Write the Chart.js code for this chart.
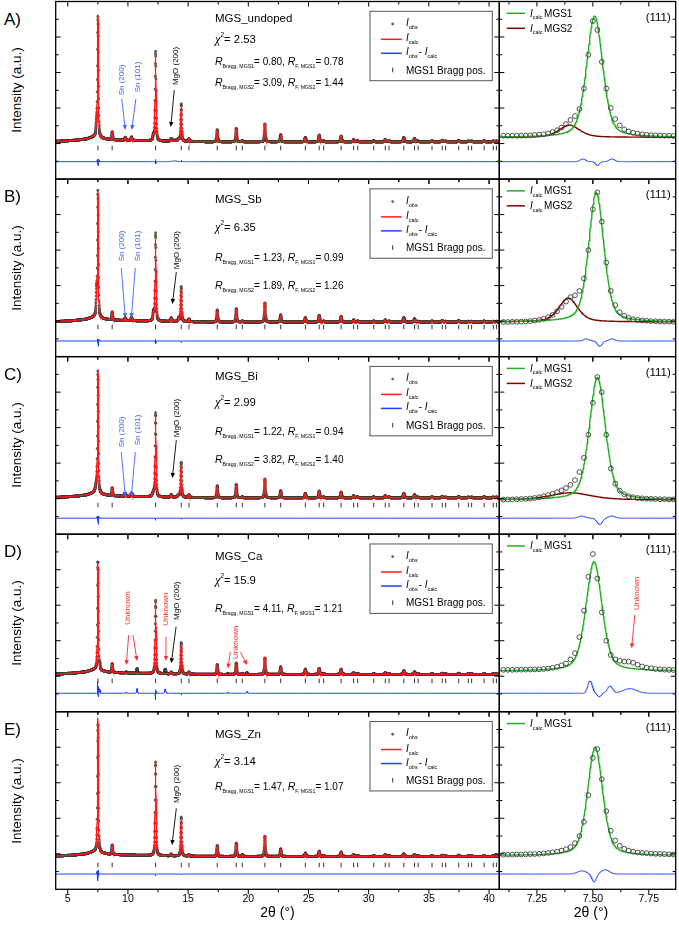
<!DOCTYPE html>
<html><head><meta charset="utf-8">
<script src="https://cdn.jsdelivr.net/npm/chart.js@4.4.1/dist/chart.umd.min.js"></script>
<style>
html,body{margin:0;padding:0;background:#fff;}
body{width:679px;height:927px;position:relative;overflow:hidden;font-family:"Liberation Sans",Arial,sans-serif;color:#000;}
canvas{position:absolute;}
.rowlab{position:absolute;left:4px;font-size:17px;line-height:17px;}
.ylab{position:absolute;font-size:13.5px;line-height:16px;width:160px;text-align:center;transform:rotate(-90deg);white-space:nowrap;}
.xlab{position:absolute;font-size:14px;line-height:16px;white-space:nowrap;transform:translateX(-50%);}
</style></head><body>
<script>
// ================= DATA =================
const rowLetters = ['A)','B)','C)','D)','E)'];
const sampleNames = ['MGS_undoped','MGS_Sb','MGS_Bi','MGS_Ca','MGS_Zn'];
const chiSquared = ['2.53','6.35','2.99','15.9','3.14'];
const rBraggMGS1 = ['0.80','1.23','1.22','4.11','1.47'];
const rFMGS1 = ['0.78','0.99','0.94','1.21','1.07'];
const rBraggMGS2 = ['3.09','1.89','3.82',null,null];
const rFMGS2 = ['1.44','1.26','1.40',null,null];

const leftTickValues = [5,10,15,20,25,30,35,40];
const leftTickLabels = ['5','10','15','20','25','30','35','40'];
const rightTickValues = [7.25,7.50,7.75];
const rightTickLabels = ['7.25','7.50','7.75'];

// MGS1 Bragg positions (2theta, deg)
const braggPos = [7.51,8.69,12.30,14.43,15.07,17.42,19.00,19.50,21.38,22.69,24.74,25.89,26.26,27.71,28.75,29.09,30.42,31.38,31.69,32.92,33.81,34.11,35.26,36.11,36.39,37.48,38.28,38.55,39.59,40.35,40.61];
// peak heights above background (axis units) per sample
const heightsA = [6.84,0.45,4.96,2.03,0.15,0.68,0.75,0.06,1.00,0.40,0.25,0.38,0.05,0.32,0.12,0.06,0.06,0.12,0.06,0.25,0.18,0.04,0.06,0.08,0.04,0.08,0.04,0.04,0.06,0.04,0.04];
const heightsB = [7.10,0.45,4.90,1.97,0.15,0.68,0.75,0.06,1.07,0.40,0.25,0.38,0.05,0.32,0.12,0.06,0.06,0.12,0.06,0.25,0.18,0.04,0.06,0.08,0.04,0.08,0.04,0.04,0.06,0.04,0.04];
const heightsC = [6.80,0.45,4.80,1.97,0.15,0.68,0.75,0.06,1.05,0.40,0.25,0.38,0.05,0.32,0.12,0.06,0.06,0.12,0.06,0.25,0.18,0.04,0.06,0.08,0.04,0.08,0.04,0.04,0.06,0.04,0.04];
const heightsD = [6.05,0.50,4.17,1.78,0.12,0.56,0.65,0.06,0.93,0.43,0.30,0.35,0.05,0.30,0.10,0.05,0.05,0.10,0.05,0.22,0.15,0.04,0.05,0.07,0.04,0.07,0.04,0.04,0.05,0.04,0.04];
const heightsE = [7.57,0.53,5.35,2.20,0.08,0.62,0.75,0.10,1.14,0.43,0.20,0.30,0.05,0.25,0.10,0.05,0.05,0.10,0.05,0.15,0.10,0.04,0.05,0.07,0.04,0.07,0.04,0.04,0.05,0.04,0.04];
const peakHeights = [heightsA,heightsB,heightsC,heightsD,heightsE];

// impurity peaks included in the calculated pattern: Sn(200), Sn(101), MgO(200)
const impurityPos = [9.78,10.30,13.60];
const impurityHeights = [[0.17,0.20,0.12],[0.15,0.18,0.20],[0.17,0.20,0.15],[0,0,0.10],[0,0,0.10]];
// MGS2 phase peaks (left panels)
const mgs2Pos = [7.395,12.12,14.22];
const mgs2HeightsLeft = [[0.69,0.30,0.12],[1.35,0.50,0.20],[0.40,0.20,0.10],[0,0,0],[0,0,0]];

// background level (far from peaks) and background shape
const bgBase = [2.10,1.95,2.05,2.10,1.85];
const bgKnot2Theta = [4,5.5,6.5,7.2,7.8,8.5,10,13,17,41];
const bgKnotLevel = [0.02,0.08,0.15,0.28,0.20,0.12,0.08,0.04,0,0];
const braggTickLevel = [1.75,1.67,1.64,1.74,1.37];
const diffZeroLevel = [0.98,0.88,0.90,1.04,0.86];

// difference (Iobs - Icalc) features: [2theta, amplitude, sigma]
const diffFeaturesA = [[7.455,0.15,0.012],[7.52,-0.22,0.008],[7.585,0.15,0.012],[12.29,0.12,0.01],[12.33,-0.12,0.01],[14.43,0.08,0.01],[13.9,0.04,0.25]];
const diffFeaturesB = [[7.47,0.12,0.012],[7.53,-0.30,0.01],[7.585,0.12,0.012],[12.29,0.10,0.01],[12.33,-0.15,0.01],[14.45,-0.08,0.01]];
const diffFeaturesC = [[7.45,0.12,0.015],[7.53,-0.35,0.012],[7.585,0.12,0.015],[12.30,-0.12,0.01],[14.45,-0.06,0.01]];
const diffFeaturesD = [[7.487,0.70,0.01],[7.528,-0.20,0.008],[7.576,0.40,0.012],[7.665,0.26,0.03],[9.87,0.06,0.04],[10.76,0.26,0.04],[12.28,-0.37,0.01],[12.33,0.20,0.01],[13.10,0.25,0.05],[14.45,-0.10,0.01],[18.31,0.05,0.04],[19.89,0.10,0.05]];
const diffFeaturesE = [[7.45,0.18,0.02],[7.505,-0.45,0.01],[7.555,0.24,0.018],[12.30,-0.10,0.01],[14.45,-0.05,0.01]];
const diffFeatures = [diffFeaturesA,diffFeaturesB,diffFeaturesC,diffFeaturesD,diffFeaturesE];

// (111) zoom panels: observed points
const rightGrid = [7.10,7.12,7.14,7.16,7.18,7.20,7.22,7.24,7.26,7.28,7.30,7.32,7.34,7.36,7.38,7.40,7.42,7.44,7.46,7.48,7.50,7.52,7.54,7.56,7.58,7.60,7.62,7.64,7.66,7.68,7.70,7.72,7.74,7.76,7.78,7.80,7.82,7.84,7.86];
const rightObsA = [2.44,2.44,2.44,2.44,2.45,2.45,2.46,2.48,2.50,2.52,2.57,2.65,2.75,2.90,3.10,3.33,3.55,3.95,5.10,7.00,8.90,8.40,6.60,5.10,4.00,3.38,3.02,2.80,2.68,2.61,2.56,2.52,2.49,2.47,2.46,2.45,2.44,2.44,2.43];
const rightObsB = [1.95,1.95,1.96,1.96,1.97,1.98,2.00,2.03,2.07,2.13,2.22,2.35,2.55,2.80,3.10,3.35,3.45,3.70,4.40,6.00,8.30,9.25,7.60,5.30,3.70,2.90,2.50,2.30,2.18,2.11,2.07,2.04,2.02,2.00,1.99,1.98,1.97,1.97,1.96];
const rightObsC = [1.95,1.95,1.96,1.97,1.98,1.99,2.01,2.04,2.08,2.13,2.20,2.28,2.37,2.47,2.60,2.78,3.05,3.50,4.30,5.60,7.40,8.85,8.00,5.60,3.70,2.85,2.45,2.25,2.14,2.08,2.04,2.02,2.00,1.99,1.98,1.97,1.97,1.96,1.96];
const rightObsD = [2.36,2.36,2.36,2.37,2.37,2.37,2.38,2.38,2.39,2.41,2.43,2.47,2.53,2.61,2.72,2.95,3.30,4.20,5.70,7.60,8.88,7.50,5.60,4.00,3.20,2.95,2.87,2.83,2.82,2.76,2.65,2.55,2.48,2.44,2.41,2.39,2.37,2.36,2.35];
const rightObsE = [1.95,1.95,1.95,1.96,1.96,1.97,1.98,1.99,2.00,2.02,2.05,2.08,2.12,2.18,2.26,2.38,2.60,3.00,3.80,5.30,7.40,7.90,6.20,4.40,3.30,2.75,2.45,2.28,2.18,2.12,2.08,2.05,2.03,2.01,2.00,1.99,1.98,1.97,1.96];
const rightObs = [rightObsA,rightObsB,rightObsC,rightObsD,rightObsE];

// (111) zoom panels: calculated phase contributions
const mgs1Center = [7.508,7.515,7.520,7.505,7.510];
const mgs1Height = [6.83,7.30,6.90,6.16,6.10];
const mgs1Fwhm = [0.085,0.080,0.085,0.085,0.080];
const mgs1Bg = [2.35,1.95,1.93,2.29,1.90];
const mgs2Center = [7.395,7.390,7.400,null,null];
const mgs2Height = [0.69,1.35,0.40,null,null];
const mgs2Fwhm = [0.11,0.10,0.22,null,null];

// ================= LAYOUT / STYLE =================
const LX0=55.7, LX1=499.3, RX1=675.7, TOP0=1.5, ROWH=177.56, M=7;
const XL=[4.0,40.85], XR=[7.082,7.87];
const RED='#ff1a1a', BLUE='#1f3dff', GREEN='#22b022', DRED='#800000', LBLUE='#3a63ff', URED='#ff2a2a';
const FONT='"Liberation Sans", Arial, sans-serif';
const textY = {name:[15.8,20,19.4,21.8,21.6], chi:[37.8,48,45,45.8,49], r1:[59.5,78,75,74.8,74.3], r2:[80.8,106,102.4,null,null]};
const annotations = [
 [{t:'Sn (200)',c:LBLUE,x:9.51,y:5.58,ar:[[9.49,4.51,9.78,2.77]]},
  {t:'Sn (101)',c:LBLUE,x:10.84,y:5.75,ar:[[10.66,4.51,10.32,2.77]]},
  {t:'MgO (200)',c:'#000',x:13.94,y:6.37,ar:[[13.85,5.02,13.56,2.93]]}],
 [{t:'Sn (200)',c:LBLUE,x:9.45,y:6.23,ar:[[9.45,4.99,9.78,2.17]]},
  {t:'Sn (101)',c:LBLUE,x:10.78,y:6.23,ar:[[10.61,4.99,10.28,2.17]]},
  {t:'MgO (200)',c:'#000',x:14.1,y:6.0,ar:[[14.02,4.76,13.69,2.96]]}],
 [{t:'Sn (200)',c:LBLUE,x:9.45,y:5.76,ar:[[9.45,4.63,9.78,2.1]]},
  {t:'Sn (101)',c:LBLUE,x:10.78,y:5.87,ar:[[10.61,4.63,10.28,2.1]]},
  {t:'MgO (200)',c:'#000',x:14.1,y:6.54,ar:[[14.02,5.3,13.69,3.17]]}],
 [{t:'Unknown',c:URED,x:10.01,y:5.84,ar:[[10.06,4.32,9.87,2.63],[10.42,4.32,10.76,2.86]]},
  {t:'Unknown',c:URED,x:13.11,y:5.78,ar:[[13.16,4.22,13.16,2.86]]},
  {t:'MgO (200)',c:'#000',x:14.08,y:6.25,ar:[[14.0,4.79,13.6,2.73]]},
  {t:'Unknown',c:URED,x:18.92,y:3.91,ar:[[18.5,3.38,18.31,2.44],[19.34,3.38,19.89,2.63]]}],
 [{t:'MgO (200)',c:'#000',x:14.02,y:5.93,ar:[[14.02,4.56,13.66,2.5]]}]
];
const rightAnnotations = [[],[],[],[{t:'Unknown',c:URED,x:7.698,y:6.67,ar:[[7.6875,5.45,7.673,3.57]]}],[]];

// ================= MODEL =================
function pv(x,c,h,w,eta){const d=(x-c)/w;return h*(eta/(1+4*d*d)+(1-eta)*Math.exp(-2.7725887*d*d));}
function bgShape(x){
  for(let i=0;i<bgKnot2Theta.length-1;i++){
    if(x<=bgKnot2Theta[i+1]){const t=(x-bgKnot2Theta[i])/(bgKnot2Theta[i+1]-bgKnot2Theta[i]);return bgKnotLevel[i]+t*(bgKnotLevel[i+1]-bgKnotLevel[i]);}
  }
  return 0;
}
function calcLeft(x,r){
  let y=bgBase[r]+bgShape(x);
  const H=peakHeights[r];
  for(let i=0;i<braggPos.length;i++){ if(H[i]>0) y+=pv(x,braggPos[i],H[i],0.078+0.0012*braggPos[i],0.5); }
  for(let i=0;i<impurityPos.length;i++){ if(impurityHeights[r][i]>0) y+=pv(x,impurityPos[i],impurityHeights[r][i],0.1,0.5); }
  for(let i=0;i<mgs2Pos.length;i++){ if(mgs2HeightsLeft[r][i]>0) y+=pv(x,mgs2Pos[i],mgs2HeightsLeft[r][i],(mgs2Fwhm[r]||0.11),0.5); }
  return y;
}
function diffAt(x,r){let d=0;for(const f of diffFeatures[r]){const u=(x-f[0])/f[2];d+=f[1]*Math.exp(-0.5*u*u);}return d;}

// ================= DRAWING HELPERS =================
function rich(ctx,x,y,parts){
  let cx=x;
  for(const p of parts){
    ctx.font=(p.i?'italic ':'')+p.s+'px '+(p.f||FONT);
    ctx.fillText(p.t,cx,y+(p.dy||0));
    cx+=ctx.measureText(p.t).width+(p.g||0);
  }
  return cx;
}
function arrow(ctx,x1,y1,x2,y2,col){
  ctx.strokeStyle=col;ctx.fillStyle=col;ctx.lineWidth=0.9;
  const a=Math.atan2(y2-y1,x2-x1), L=5, W=2.2;
  const bx=x2-L*Math.cos(a), by=y2-L*Math.sin(a);
  ctx.beginPath();ctx.moveTo(x1,y1);ctx.lineTo(bx,by);ctx.stroke();
  ctx.beginPath();ctx.moveTo(x2,y2);ctx.lineTo(bx+W*Math.sin(a),by-W*Math.cos(a));ctx.lineTo(bx-W*Math.sin(a),by+W*Math.cos(a));ctx.closePath();ctx.fill();
}

const decor={
  id:'decor',
  afterDraw(chart){
    const o=chart.options.plugins.decor; if(!o) return;
    const ctx=chart.ctx, xs=chart.scales.x, ys=chart.scales.y, a=chart.chartArea;
    ctx.save(); ctx.translate(-o.cl,-o.ct);
    const X=v=>xs.getPixelForValue(v)+o.cl, Y=v=>ys.getPixelForValue(v)+o.ct;
    const L=a.left+o.cl, R=a.right+o.cl, T=a.top+o.ct, B=a.bottom+o.ct;
    const r=o.row;
    ctx.strokeStyle='#000'; ctx.lineWidth=1.3; ctx.strokeRect(L,T,R-L,B-T);
    ctx.lineWidth=1;
    const major=o.side==='L'?leftTickValues:rightTickValues;
    const minor=o.side==='L'?[2.5,7.5,12.5,17.5,22.5,27.5,32.5,37.5]:[7.125,7.375,7.625];
    ctx.beginPath();
    for(const v of major){const px=X(v);ctx.moveTo(px,T);ctx.lineTo(px,T+5);ctx.moveTo(px,B);ctx.lineTo(px,B+5);}
    for(const v of minor){const px=X(v);if(px<L||px>R)continue;ctx.moveTo(px,T);ctx.lineTo(px,T+3);ctx.moveTo(px,B);ctx.lineTo(px,B+3);}
    for(let v=1;v<10;v++){const py=Y(v),len=(v%2===0)?5:3;ctx.moveTo(L,py);ctx.lineTo(L+len,py);ctx.moveTo(R,py);ctx.lineTo(R-len,py);}
    ctx.stroke();
    ctx.fillStyle='#000';
    if(o.last){
      ctx.font='10.5px '+FONT;ctx.textAlign='center';ctx.textBaseline='middle';
      const labs=o.side==='L'?leftTickLabels:rightTickLabels;
      major.forEach((v,i)=>ctx.fillText(labs[i],X(v),B+9.5));
    }
    ctx.textAlign='left';ctx.textBaseline='alphabetic';
    const y0=T;
    if(o.side==='L'){
      const tx=215;
      ctx.fillStyle='#000';
      rich(ctx,tx,y0+textY.name[r]+4.2,[{t:sampleNames[r],s:11.5}]);
      rich(ctx,tx,y0+textY.chi[r]+4,[{t:'\u03C7',s:12.5,i:true,f:'"Liberation Serif", serif'},{t:'2',s:6.5,dy:-6},{t:'= '+chiSquared[r],s:11.3}]);
      rich(ctx,tx,y0+textY.r1[r]+3.5,[{t:'R',s:10.5,i:true},{t:'Bragg, MGS1',s:5.2,dy:3},{t:'= '+rBraggMGS1[r]+', ',s:10},{t:'R',s:10.5,i:true},{t:'F, MGS1',s:5.2,dy:3},{t:'= '+rFMGS1[r],s:10}]);
      if(rBraggMGS2[r]) rich(ctx,tx,y0+textY.r2[r]+3.5,[{t:'R',s:10.5,i:true},{t:'Bragg, MGS2',s:5.2,dy:3},{t:'= '+rBraggMGS2[r]+', ',s:10},{t:'R',s:10.5,i:true},{t:'F, MGS2',s:5.2,dy:3},{t:'= '+rFMGS2[r],s:10}]);
      ctx.strokeStyle='#555';ctx.lineWidth=1;ctx.strokeRect(370,y0+9.8,122.3,69.4);
      const ly=[22.5,37.8,51.8,68.5].map(v=>y0+v);
      ctx.fillStyle='#666';ctx.beginPath();ctx.arc(392.7,ly[0],1.4,0,Math.PI*2);ctx.fill();
      ctx.lineWidth=1.5;ctx.strokeStyle=RED;ctx.beginPath();ctx.moveTo(381,ly[1]);ctx.lineTo(401.7,ly[1]);ctx.stroke();
      ctx.strokeStyle=BLUE;ctx.beginPath();ctx.moveTo(381,ly[2]);ctx.lineTo(401.7,ly[2]);ctx.stroke();
      ctx.lineWidth=1;ctx.strokeStyle='#333';ctx.beginPath();ctx.moveTo(392.7,ly[3]-2.3);ctx.lineTo(392.7,ly[3]+2.3);ctx.stroke();
      ctx.fillStyle='#000';
      rich(ctx,406,ly[0]+2,[{t:'I',s:10,i:true},{t:'obs',s:5.5,dy:3}]);
      rich(ctx,406,ly[1]+2,[{t:'I',s:10,i:true},{t:'calc',s:5.5,dy:3}]);
      rich(ctx,406,ly[2]+2,[{t:'I',s:10,i:true},{t:'obs',s:5.5,dy:3,g:1},{t:'- ',s:10},{t:'I',s:10,i:true},{t:'calc',s:5.5,dy:3}]);
      rich(ctx,406,ly[3]+3.6,[{t:'MGS1 Bragg pos.',s:10}]);
    } else {
      const ly=[11.8,26.8].map(v=>y0+v);
      ctx.lineWidth=1.5;ctx.strokeStyle=GREEN;ctx.beginPath();ctx.moveTo(506.7,ly[0]);ctx.lineTo(525,ly[0]);ctx.stroke();
      ctx.fillStyle='#000';
      rich(ctx,530,ly[0]+3.5,[{t:'I',s:10,i:true},{t:'calc',s:5.5,dy:2.5,g:1.5},{t:'MGS1',s:10}]);
      if(mgs2Center[r]!==null){
        ctx.strokeStyle=DRED;ctx.beginPath();ctx.moveTo(506.7,ly[1]);ctx.lineTo(525,ly[1]);ctx.stroke();
        rich(ctx,530,ly[1]+3.5,[{t:'I',s:10,i:true},{t:'calc',s:5.5,dy:2.5,g:1.5},{t:'MGS2',s:10}]);
      }
      ctx.font='11.5px '+FONT;ctx.textAlign='right';ctx.fillText('(111)',670.8,y0+19.3);ctx.textAlign='left';
    }
    const ann=o.side==='L'?annotations[r]:rightAnnotations[r];
    for(const an of ann){
      ctx.save();ctx.translate(X(an.x),Y(an.y));ctx.rotate(-Math.PI/2);
      ctx.fillStyle=an.c;ctx.font='8px '+FONT;ctx.textAlign='center';ctx.textBaseline='middle';
      ctx.fillText(an.t,0,0);ctx.restore();
      for(const s of an.ar) arrow(ctx,X(s[0]),Y(s[1]),X(s[2]),Y(s[3]),an.c);
    }
    ctx.restore();
  }
};
Chart.register(decor);

function makePanel(r,side){
  const x0=side==='L'?LX0:LX1, x1=side==='L'?LX1:RX1;
  const y0=TOP0+r*ROWH, y1=y0+ROWH, last=(r===4);
  const cl=Math.floor(x0)-M, ct=Math.floor(y0)-M;
  const cw=Math.ceil(x1)+M-cl, ch=Math.ceil(y1)+(last?26:M)-ct;
  const cv=document.createElement('canvas');
  cv.width=cw;cv.height=ch;cv.style.left=cl+'px';cv.style.top=ct+'px';cv.style.width=cw+'px';cv.style.height=ch+'px';
  document.body.appendChild(cv);
  const datasets=[];
  if(side==='L'){
    const calc=[],obs=[],dif=[];
    for(let i=0;;i++){const x=+(XL[0]+i*0.01).toFixed(3);if(x>XL[1])break;
      const c=calcLeft(x,r),d=diffAt(x,r);
      calc.push({x:x,y:c});obs.push({x:x,y:c+d});dif.push({x:x,y:diffZeroLevel[r]+d});}
    datasets.push({data:calc,borderColor:RED,borderWidth:1.3,pointRadius:0,showLine:true,order:1});
    datasets.push({data:obs,showLine:false,pointRadius:1.5,pointBackgroundColor:'rgba(60,60,60,0.8)',pointBorderWidth:0,order:2});
    datasets.push({data:dif,borderColor:BLUE,borderWidth:1,pointRadius:0,showLine:true,order:3});
    datasets.push({data:braggPos.map(p=>({x:p,y:braggTickLevel[r]})),showLine:false,pointStyle:'line',rotation:90,pointRadius:2.3,pointBorderColor:'#333',pointBorderWidth:1,order:4});
  } else {
    const g=[],m2=[],dif=[];
    for(let i=0;;i++){const x=+(XR[0]-0.005+i*0.002).toFixed(4);if(x>XR[1]+0.005)break;
      g.push({x:x,y:mgs1Bg[r]+pv(x,mgs1Center[r],mgs1Height[r],mgs1Fwhm[r],0.4)});
      if(mgs2Center[r]!==null) m2.push({x:x,y:mgs1Bg[r]+pv(x,mgs2Center[r],mgs2Height[r],mgs2Fwhm[r],0.5)});
      dif.push({x:x,y:diffZeroLevel[r]+diffAt(x,r)});}
    datasets.push({data:rightGrid.map((x,i)=>({x:x,y:rightObs[r][i]})),showLine:false,pointRadius:2.4,pointBorderColor:'#404040',pointBorderWidth:0.9,pointBackgroundColor:'rgba(0,0,0,0)',order:1});
    datasets.push({data:g,borderColor:GREEN,borderWidth:1.4,pointRadius:0,showLine:true,order:2});
    if(m2.length) datasets.push({data:m2,borderColor:DRED,borderWidth:1.4,pointRadius:0,showLine:true,order:3});
    datasets.push({data:dif,borderColor:BLUE,borderWidth:1,pointRadius:0,showLine:true,order:4});
  }
  new Chart(cv.getContext('2d'),{
    type:'scatter',
    data:{datasets:datasets},
    options:{
      responsive:false,animation:false,devicePixelRatio:1,parsing:false,normalized:true,
      layout:{padding:{left:x0-cl,top:y0-ct,right:cl+cw-x1,bottom:ct+ch-y1}},
      scales:{x:{type:'linear',min:side==='L'?XL[0]:XR[0],max:side==='L'?XL[1]:XR[1],display:false},
              y:{type:'linear',min:0,max:10,display:false}},
      plugins:{legend:{display:false},tooltip:{enabled:false},decor:{row:r,side:side,cl:cl,ct:ct,last:last}},
      elements:{line:{tension:0}}
    }
  });
  if(side==='L'){
    const lab=document.createElement('div');lab.className='rowlab';lab.style.top=(y0+9)+'px';lab.textContent=rowLetters[r];document.body.appendChild(lab);
    const yl=document.createElement('div');yl.className='ylab';yl.style.left=(17.3-80)+'px';yl.style.top=(y0+ROWH/2-8)+'px';yl.textContent='Intensity (a.u.)';document.body.appendChild(yl);
  }
}
for(let r=0;r<5;r++){makePanel(r,'L');makePanel(r,'R');}
const xt1=document.createElement('div');xt1.className='xlab';xt1.style.left='277.5px';xt1.style.top='904px';xt1.innerHTML='2\u03B8 (\u00B0)';document.body.appendChild(xt1);
const xt2=document.createElement('div');xt2.className='xlab';xt2.style.left='591px';xt2.style.top='904px';xt2.innerHTML='2\u03B8 (\u00B0)';document.body.appendChild(xt2);
</script>
</body></html>
